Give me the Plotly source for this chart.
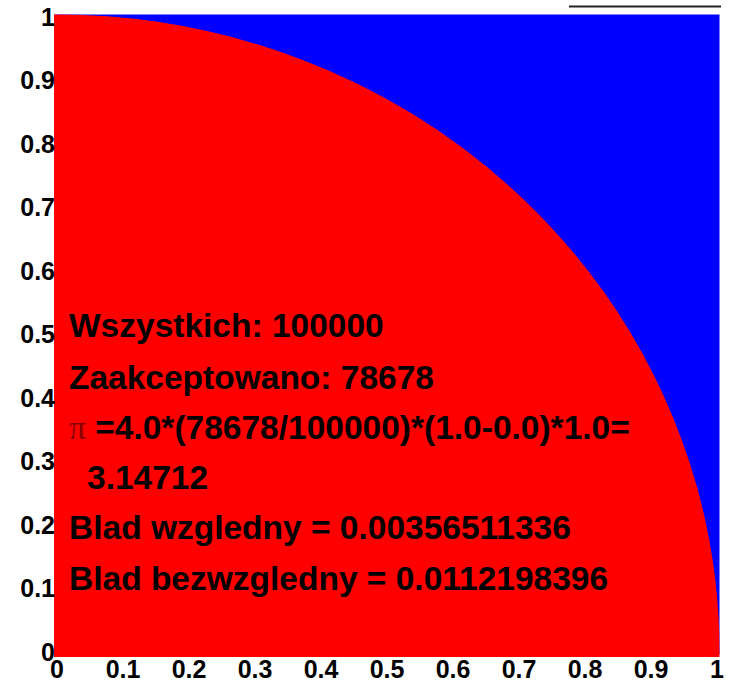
import plotly.graph_objects as go

# ---- data ----
x_limits = [0.0, 1.0]          # sampled square
y_limits = [0.0, 1.0]
radius = [1.0]                 # acceptance region: quarter circle of radius 1
count_labels = ["Wszystkich", "Zaakceptowano"]
counts = [100000, 78678]
pi_value = ["3.14712"]
error_labels = ["Blad wzgledny", "Blad bezwzgledny"]
error_values = ["0.00356511336", "0.0112198396"]
tick_vals = [0, 0.1, 0.2, 0.3, 0.4, 0.5, 0.6, 0.7, 0.8, 0.9, 1]
tick_text = ["0", "0.1", "0.2", "0.3", "0.4", "0.5", "0.6", "0.7", "0.8", "0.9", "1"]

RED = "#ff0000"
BLUE = "#0000ff"

fig = go.Figure()

# invisible anchor trace so the axes exist with data
fig.add_trace(go.Scatter(x=x_limits, y=y_limits, mode="markers",
                         marker=dict(opacity=0), hoverinfo="skip", showlegend=False))

# rejected region (whole square) in blue
fig.add_shape(type="rect", xref="x", yref="y",
              x0=x_limits[0], x1=x_limits[1], y0=y_limits[0], y1=y_limits[1],
              fillcolor=BLUE, line=dict(color=BLUE, width=5), layer="below")
# accepted region (inside circle) in red
r = radius[0]
fig.add_shape(type="circle", xref="x", yref="y",
              x0=-r, y0=-r, x1=r, y1=r,
              fillcolor=RED, line=dict(color=RED, width=5), layer="below")

# top-right box edge
fig.add_shape(type="line", xref="paper", yref="paper",
              x0=0.772, x1=1.0, y0=1.0115, y1=1.0115,
              line=dict(color="#222222", width=2))

font_txt = dict(family="Liberation Sans, Arial", size=33.5, color="black", weight="bold")

lines = [
    (f"{count_labels[0]}: {counts[0]}", 325, 0.0),
    (f"{count_labels[1]}: {counts[1]}", 377, 0.0),
    ("<span style='font-family:Liberation Serif;font-weight:normal;color:#8a0000'>π</span>"
     f" =4.0*({counts[1]}/{counts[0]})*(1.0-0.0)*1.0=", 427, 0.0),
    (pi_value[0], 477, 0.027),
    (f"{error_labels[0]} = {error_values[0]}", 527, 0.0),
    (f"{error_labels[1]} = {error_values[1]}", 578, 0.0),
]
for text, py, dx in lines:
    fig.add_annotation(text=text, xref="paper", yref="paper",
                       x=0.02 + dx, y=(657 - py) / 643, xanchor="left", yanchor="middle",
                       showarrow=False, font=font_txt)

tick_font = dict(family="Liberation Sans, Arial", size=25, color="black", weight="bold")

fig.update_xaxes(range=[-0.004545, 1.00606], tickvals=tick_vals, ticktext=tick_text,
                 showgrid=False, zeroline=False, showline=False, ticks="",
                 tickfont=tick_font, ticklabelstandoff=-5, automargin=False)
fig.update_yaxes(range=[-0.00787, 1.00472], tickvals=tick_vals, ticktext=tick_text,
                 showgrid=False, zeroline=False, showline=False, ticks="",
                 tickfont=tick_font, ticklabelstandoff=-2, automargin=False)

fig.update_layout(width=732, height=683,
                  margin=dict(l=54, r=11, t=14, b=26, autoexpand=False),
                  paper_bgcolor="white", plot_bgcolor="white",
                  showlegend=False)

fig.write_html("out.html", config={"displayModeBar": False},
               post_script="document.body.style.margin='0px';document.body.style.overflow='hidden';")
